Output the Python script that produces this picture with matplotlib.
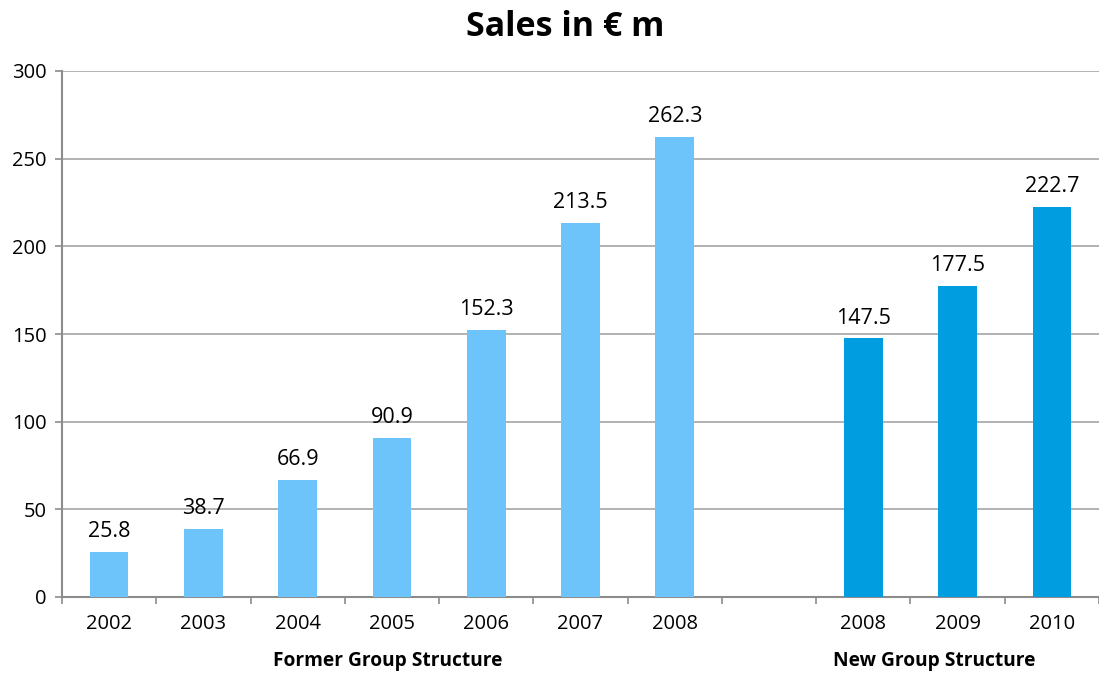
import numpy as np
import matplotlib
matplotlib.use("Agg")
import matplotlib.pyplot as plt

plt.rcParams['font.family'] = ['Open Sans', 'DejaVu Sans']

# data
former_years = ["2002", "2003", "2004", "2005", "2006", "2007", "2008"]
former_sales = [25.8, 38.7, 66.9, 90.9, 152.3, 213.5, 262.3]
new_years = ["2008", "2009", "2010"]
new_sales = [147.5, 177.5, 222.7]

light = "#6DC4FA"
dark = "#009EE0"
grey = "#8C8C8C"

fig = plt.figure(figsize=(10.99, 6.73), dpi=100)
ax = fig.add_axes([62 / 1099, 1 - 597 / 673, 1 - 62 / 1099, (597 - 71) / 673])

x_former = np.arange(len(former_years))
x_new = np.arange(len(new_years)) + len(former_years) + 1

ax.bar(x_former, former_sales, width=0.41, color=light, zorder=3)
ax.bar(x_new, new_sales, width=0.41, color=dark, zorder=3)

for x, v in list(zip(x_former, former_sales)) + list(zip(x_new, new_sales)):
    ax.annotate(f"{v:.1f}", (x, v), xytext=(0, 7), textcoords="offset points",
                ha="center", va="bottom", fontsize=15.5)

ax.set_ylim(0, 300)
ax.set_yticks(range(0, 301, 50))
ax.set_xlim(-0.5, 10.38)
ax.set_xticks(list(x_former) + list(x_new))
ax.set_xticklabels(former_years + new_years, fontsize=14.5)
ax.set_xticks(np.arange(-0.5, 11, 1), minor=True)
ax.tick_params(axis="x", which="major", length=0, pad=12)
ax.tick_params(axis="x", which="minor", length=5, color=grey, width=1.2)
ax.tick_params(axis="y", length=5, color=grey, width=1.2, labelsize=14.5, pad=6)

ax.yaxis.grid(True, color="#A6A6A6", linewidth=1.2, zorder=0)
for s in ["top", "right"]:
    ax.spines[s].set_visible(False)
for s in ["left", "bottom"]:
    ax.spines[s].set_color(grey)
    ax.spines[s].set_linewidth(1.5)

ax.text(2.96, -0.122, "Former Group Structure", transform=ax.get_xaxis_transform(),
        ha="center", va="center", fontsize=13.8, fontweight="bold")
ax.text(8.75, -0.122, "New Group Structure", transform=ax.get_xaxis_transform(),
        ha="center", va="center", fontsize=13.8, fontweight="bold")

fig.text(565 / 1099, 1 - 27 / 673, "Sales in € m", ha="center", va="center",
         fontsize=24.5, fontweight="bold")

fig.savefig("out.png", dpi=100)
